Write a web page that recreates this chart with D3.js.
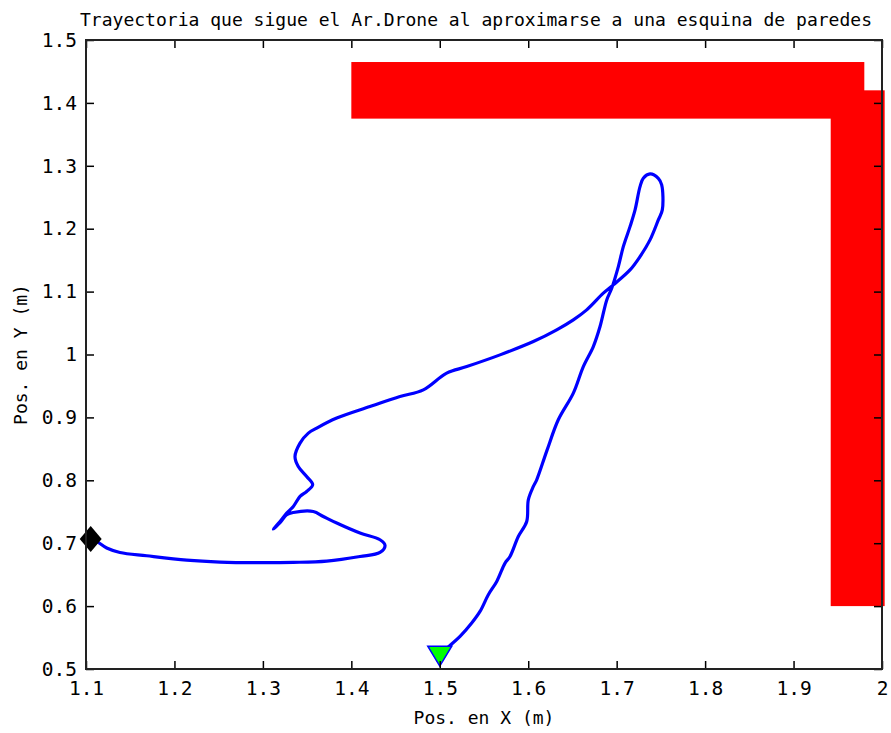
<!DOCTYPE html>
<html>
<head>
<meta charset="utf-8">
<script src="https://cdn.jsdelivr.net/npm/d3@7"></script>
<style>
  html, body { margin: 0; padding: 0; background: #fff; }
  svg { display: block; }
  text { font-family: "DejaVu Sans Mono", "Liberation Mono", monospace; fill: #000; }
</style>
</head>
<body>
<svg id="chart" width="891" height="733"></svg>
<script>
// Axis ticks
const xTicks = [1.1, 1.2, 1.3, 1.4, 1.5, 1.6, 1.7, 1.8, 1.9, 2.0];
const yTicks = [0.5, 0.6, 0.7, 0.8, 0.9, 1.0, 1.1, 1.2, 1.3, 1.4, 1.5];

// Walls of the corner: [x0, x1, y0, y1] in metres
const wallTop   = [1.40, 1.98, 1.375, 1.465];
const wallRight = [1.942, 2.003, 0.60, 1.42];

// Drone trajectory (metres)
const pathX = [1.500, 1.5116, 1.5229, 1.5361, 1.5455, 1.5549, 1.5644, 1.5738, 1.5794, 1.5888,
  1.5983, 1.6001, 1.6058, 1.6096, 1.6213, 1.6340, 1.6510, 1.6623, 1.6736, 1.6812,
  1.6888, 1.6944, 1.7019, 1.7075, 1.7151, 1.7208, 1.7264, 1.7301, 1.7377, 1.7471,
  1.7509, 1.7516, 1.7471, 1.7377, 1.7264, 1.7151, 1.6962, 1.6849, 1.6661, 1.6510,
  1.6322, 1.6058, 1.5681, 1.5305, 1.5078, 1.4814, 1.4550, 1.4211, 1.3835, 1.3609,
  1.3514, 1.3420, 1.3363, 1.3400, 1.3495, 1.3563, 1.3495, 1.3420, 1.3344, 1.3269,
  1.3194, 1.3118, 1.3194, 1.3269, 1.3344, 1.3570, 1.3683, 1.3835, 1.4098, 1.4324,
  1.4381, 1.4324, 1.4098, 1.3722, 1.3344, 1.2967, 1.2515, 1.2139, 1.1686, 1.1384,
  1.1234, 1.1121, 1.1053];
const pathY = [0.522, 0.5375, 0.5518, 0.5731, 0.5915, 0.6181, 0.6392, 0.6684, 0.6789, 0.7107,
  0.7346, 0.7690, 0.7902, 0.8008, 0.8480, 0.8962, 0.9386, 0.9808, 1.0126, 1.0444,
  1.0868, 1.1054, 1.1398, 1.1715, 1.2033, 1.2299, 1.2669, 1.2802, 1.2871, 1.2802,
  1.2696, 1.2299, 1.2140, 1.1822, 1.1557, 1.1345, 1.1107, 1.0975, 1.0710, 1.0551,
  1.0392, 1.0206, 0.9994, 0.9808, 0.9704, 0.9438, 0.9332, 0.9173, 0.8989, 0.8830,
  0.8750, 0.8591, 0.8378, 0.8220, 0.8060, 0.7929, 0.7822, 0.7743, 0.7584, 0.7479,
  0.7345, 0.7225, 0.7325, 0.7452, 0.7488, 0.7504, 0.7425, 0.7320, 0.7161, 0.7055,
  0.6964, 0.6853, 0.6789, 0.6716, 0.6695, 0.6690, 0.6700, 0.6730, 0.6800, 0.6853,
  0.6923, 0.7028, 0.7066];

// Start (green triangle) and end (black diamond) markers
const startPoint = [1.500, 0.522];
const endPoint = [1.1053, 0.7066];

const titleText = "Trayectoria que sigue el Ar.Drone al aproximarse a una esquina de paredes";
const xLabel = "Pos. en X (m)";
const yLabel = "Pos. en Y (m)";

const svg = d3.select("#chart");
const plotLeft = 86, plotRight = 882, plotTop = 40, plotBottom = 669;

const x = d3.scaleLinear().domain([1.1, 2.0]).range([plotLeft, plotRight]);
const y = d3.scaleLinear().domain([0.5, 1.5]).range([plotBottom, plotTop]);

svg.append("rect").attr("width", 891).attr("height", 733).attr("fill", "#fff");

// Walls
svg.selectAll("rect.wall").data([wallTop, wallRight]).enter().append("rect")
  .attr("class", "wall")
  .attr("x", d => x(d[0]))
  .attr("y", d => y(d[3]))
  .attr("width", d => x(d[1]) - x(d[0]))
  .attr("height", d => y(d[2]) - y(d[3]))
  .attr("fill", "#ff0000");

// Trajectory
const pts = pathX.map((v, i) => [v, pathY[i]]);
svg.append("path")
  .attr("d", d3.line().x(d => x(d[0])).y(d => y(d[1])).curve(d3.curveCatmullRom.alpha(0.5))(pts))
  .attr("fill", "none")
  .attr("stroke", "#0000ff")
  .attr("stroke-width", 3.2)
  .attr("stroke-linejoin", "round")
  .attr("stroke-linecap", "round");

// Start marker: downward triangle
{
  const cx = x(startPoint[0]), cy = y(startPoint[1]);
  svg.append("path")
    .attr("d", `M${cx - 12},${cy - 9} L${cx + 12},${cy - 9} L${cx},${cy + 11} Z`)
    .attr("fill", "#00ff00")
    .attr("stroke", "#0000ff")
    .attr("stroke-width", 1.5)
    .attr("stroke-linejoin", "miter");
}
// End marker: diamond
{
  const cx = x(endPoint[0]), cy = y(endPoint[1]);
  svg.append("path")
    .attr("d", `M${cx},${cy - 13} L${cx + 11},${cy} L${cx},${cy + 13} L${cx - 11},${cy} Z`)
    .attr("fill", "#000");
}

// Axes
const fmt = d => d3.format("~g")(d);
const gx = svg.append("g").attr("transform", `translate(0,${plotBottom})`)
  .call(d3.axisBottom(x).tickValues(xTicks).tickFormat(fmt).tickSizeInner(-8).tickSizeOuter(0).tickPadding(12));
const gxt = svg.append("g").attr("transform", `translate(0,${plotTop})`)
  .call(d3.axisTop(x).tickValues(xTicks).tickFormat("").tickSizeInner(-8).tickSizeOuter(0));
const gy = svg.append("g").attr("transform", `translate(${plotLeft},0)`)
  .call(d3.axisLeft(y).tickValues(yTicks).tickFormat(fmt).tickSizeInner(-8).tickSizeOuter(0).tickPadding(9));
const gyr = svg.append("g").attr("transform", `translate(${plotRight},0)`)
  .call(d3.axisRight(y).tickValues(yTicks).tickFormat("").tickSizeInner(-8).tickSizeOuter(0));

[gx, gxt, gy, gyr].forEach(g => {
  g.select(".domain").remove();
  g.selectAll(".tick line").attr("stroke", "#000").attr("stroke-width", 1.5);
  g.selectAll(".tick text").style("font-family", '"DejaVu Sans Mono", monospace').style("font-size", "19.5px").attr("fill", "#000");
});
gx.selectAll(".tick text").attr("dy", "0.71em");

// Frame
svg.append("rect")
  .attr("x", plotLeft).attr("y", plotTop)
  .attr("width", plotRight - plotLeft).attr("height", plotBottom - plotTop)
  .attr("fill", "none").attr("stroke", "#222").attr("stroke-width", 2);

// Title and axis labels
svg.append("text")
  .attr("x", 80).attr("y", 26)
  .attr("textLength", 792).attr("lengthAdjust", "spacingAndGlyphs")
  .style("font-size", "18px")
  .text(titleText);

svg.append("text")
  .attr("x", (plotLeft + plotRight) / 2).attr("y", 724)
  .attr("text-anchor", "middle")
  .style("font-size", "18px")
  .text(xLabel);

svg.append("text")
  .attr("transform", `translate(27,${(plotTop + plotBottom) / 2}) rotate(-90)`)
  .attr("text-anchor", "middle")
  .style("font-size", "18px")
  .text(yLabel);
</script>
</body>
</html>
